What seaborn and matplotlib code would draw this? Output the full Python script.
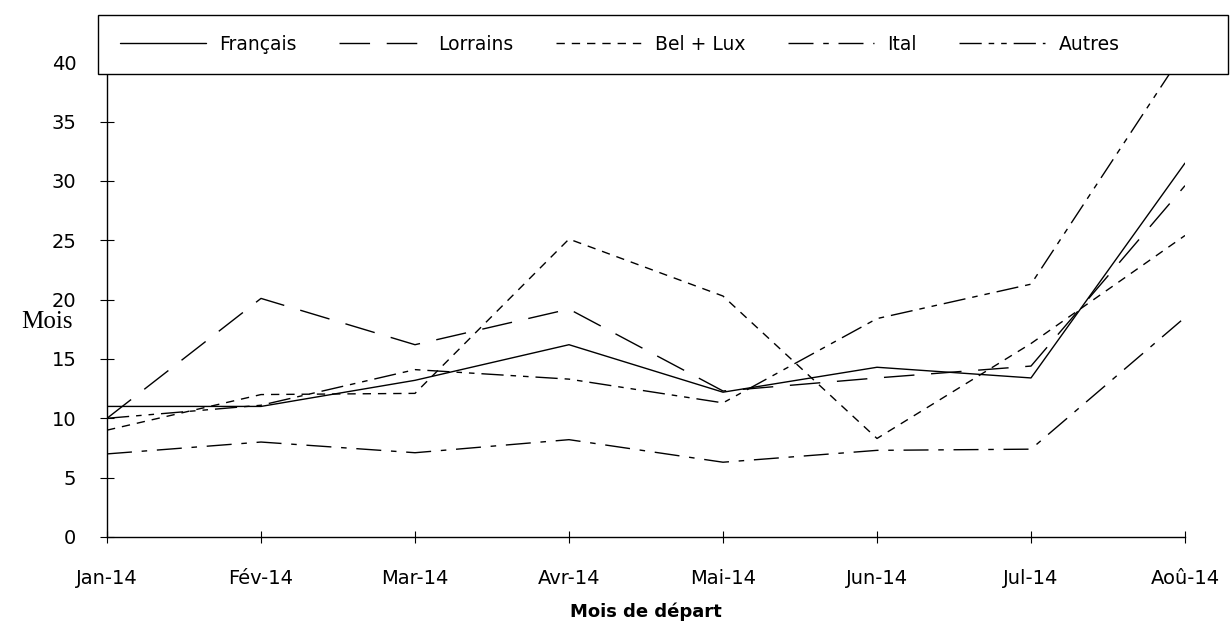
#Durée moyenne (en mois) selon le mois de départ
import pandas as pd
import matplotlib.pyplot as plt
import seaborn as sns
from matplotlib.patches import Rectangle

#valeurs
mois = ['Jan-14', 'Fév-14', 'Mar-14', 'Avr-14', 'Mai-14', 'Jun-14', 'Jul-14', 'Aoû-14']
francais = [11.0, 11.0, 13.2, 16.2, 12.2, 14.3, 13.4, 31.5]
lorrains = [10.0, 20.1, 16.2, 19.2, 12.3, 13.4, 14.4, 29.6]
bel_lux = [9.0, 12.0, 12.1, 25.1, 20.3, 8.3, 16.3, 25.4]
ital = [7.0, 8.0, 7.1, 8.2, 6.3, 7.3, 7.4, 18.5]
autres = [10.0, 11.1, 14.1, 13.3, 11.3, 18.4, 21.3, 41.0]

sns.set_style('white')
plt.rcParams['font.family'] = ['DejaVu Sans']
plt.rcParams['text.color'] = 'black'

df = pd.DataFrame({'Mois': mois, 'Français': francais, 'Lorrains': lorrains,
                   'Bel + Lux': bel_lux, 'Ital': ital, 'Autres': autres})
long = df.melt(id_vars='Mois', var_name='Groupe', value_name='Valeur')

fig = plt.figure(figsize=(12.3, 6.21), dpi=100)
ax = fig.add_axes([107/1230, 1-537/621, 1078/1230, 517/621])

#un style de trait par groupe
dashes = {'Français': '', 'Lorrains': (22, 12), 'Bel + Lux': (6, 5),
          'Ital': (18, 7, 4, 7), 'Autres': (16, 5, 4, 5, 4, 5)}
sns.lineplot(data=long, x='Mois', y='Valeur', style='Groupe', dashes=dashes,
             color='black', linewidth=1, ax=ax)

ax.set_xlim(0, 7)
ax.set_ylim(0, 517/11.87)
ax.set_yticks(range(0, 45, 5))
ax.set_xlabel('')
ax.set_ylabel('')
ax.spines['top'].set_visible(False)
ax.spines['right'].set_visible(False)
for s in ['left', 'bottom']:
    ax.spines[s].set_color('black')
    ax.spines[s].set_linewidth(1)
ax.tick_params(axis='both', direction='inout', colors='black', labelsize=14, bottom=True, left=True)
ax.tick_params(axis='y', length=10, pad=17)
ax.tick_params(axis='x', length=8, pad=19)

fig.text(0.038, 1-322/621, 'Mois', family='Liberation Serif', fontsize=18, ha='center', va='center')
fig.text(646/1230, 1-612/621, 'Mois de départ', fontsize=13, fontweight='bold', ha='center', va='center')

#cadre blanc de la legende, au-dessus des courbes
handles, labels = ax.get_legend_handles_labels()
ax.get_legend().remove()
fig.patches.append(Rectangle((98/1230, 1-74/621), 1130/1230, 59/621, transform=fig.transFigure,
                             facecolor='white', edgecolor='black', linewidth=1, zorder=2))
leg = fig.legend(handles, labels, ncol=5, loc='center left',
                 bbox_to_anchor=(120/1230, 1-44.5/621), frameon=False,
                 fontsize=13.5, handlelength=4.6, handletextpad=0.7,
                 columnspacing=2.25, borderpad=0, borderaxespad=0)
leg.set_zorder(5)
for h in leg.get_lines():
    h.set_linewidth(1)
    h.set_color('black')

plt.savefig('out.png', dpi=100)
